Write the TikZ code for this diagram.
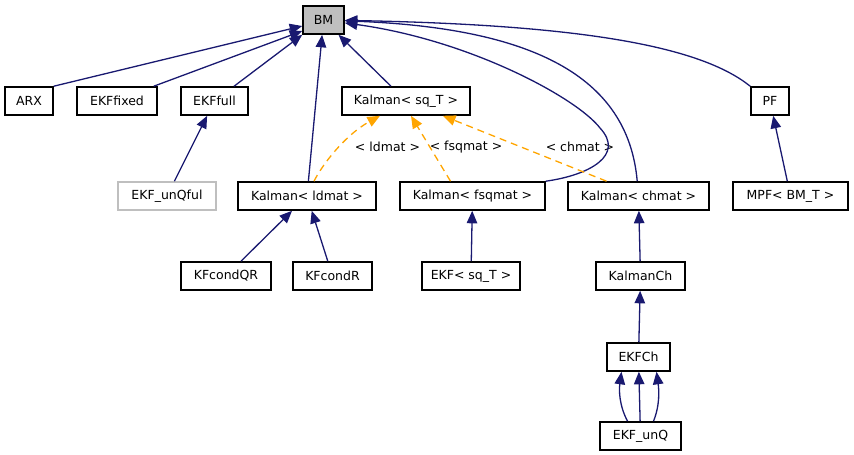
\documentclass[tikz,border=0pt]{standalone}
\usepackage{fontspec}
\setmainfont{DejaVu Sans}
\usetikzlibrary{arrows.meta}
\definecolor{marine}{HTML}{191970}
\definecolor{orangedox}{HTML}{FFA500}
\definecolor{grisdox}{HTML}{BFBFBF}

\begin{document}
\begin{tikzpicture}[x=1pt,y=-1pt]
 \tikzstyle{boite}=[rectangle,draw,line width=1.6pt,fill=white,text=black,minimum height=28pt,inner sep=0pt,font=\fontsize{12.5}{15}\selectfont]
 \tikzstyle{racine}=[boite,fill=grisdox]
 \tikzstyle{grise}=[boite,draw=grisdox]
 \tikzstyle{etiq}=[text=black,inner sep=0pt,font=\fontsize{12.5}{15}\selectfont]
 \tikzstyle{herite}=[->,>={Triangle[length=12.5pt,width=10.5pt]},draw=marine,line width=1.3pt]
 \tikzstyle{modele}=[->,>={Triangle[length=12.5pt,width=10.5pt]},draw=orangedox,line width=1.3pt,dash pattern=on 7pt off 5pt]
 \useasboundingbox (0,0) rectangle (854,455);
 \node[racine,minimum width=41pt] (BM) at (323.5,20) {BM};
 \node[boite,minimum width=48pt] (ARX) at (29,101) {ARX};
 \node[boite,minimum width=80pt] (EKFfixed) at (117,101) {EKFfixed};
 \node[boite,minimum width=67pt] (EKFfull) at (214.5,101) {EKFfull};
 \node[boite,minimum width=128pt] (KsqT) at (406,101) {Kalman< sq\_T >};
 \node[boite,minimum width=38pt] (PF) at (770,101) {PF};
 \node[grise,minimum width=98pt] (EKFunQful) at (167,196) {EKF\_unQful};
 \node[boite,minimum width=138pt] (Kld) at (307,196) {Kalman< ldmat >};
 \node[boite,minimum width=145pt] (Kfsq) at (472.5,196) {Kalman< fsqmat >};
 \node[boite,minimum width=141pt] (Kch) at (638.5,196) {Kalman< chmat >};
 \node[boite,minimum width=115pt] (MPF) at (790.5,196) {MPF< BM\_T >};
 \node[boite,minimum width=90pt] (KFcondQR) at (226,276) {KFcondQR};
 \node[boite,minimum width=79pt] (KFcondR) at (332.5,276) {KFcondR};
 \node[boite,minimum width=98pt] (EKFsqT) at (471,276) {EKF< sq\_T >};
 \node[boite,minimum width=89pt] (KalmanCh) at (640.5,276) {KalmanCh};
 \node[boite,minimum width=63pt] (EKFCh) at (638.5,357) {EKFCh};
 \node[boite,minimum width=81pt] (EKFunQ) at (640.5,436) {EKF\_unQ};
 \node[etiq] (Lld) at (387.5,147) {< ldmat >};
 \node[etiq] (Lfsq) at (466,147) {< fsqmat >};
 \node[etiq] (Lch) at (580,147) {< chmat >};
 \draw[herite] (ARX.north east)--([yshift=-6pt]BM.west);
 \draw[herite] ([xshift=-4pt]EKFfixed.north east)--([yshift=-11pt]BM.west);
 \draw[herite] (EKFfull)--(BM.south west);
 \draw[herite] (Kld)--(BM);
 \draw[herite] (KsqT)--(BM);
 \draw[herite] (Kfsq.north east) .. controls (590,175) and (625,155) .. (600,128) .. controls (577,98) and (470,40) .. (BM);
 \draw[herite] (Kch) .. controls (628,75) and (530,28) .. (BM);
 \draw[herite] (PF.north west) .. controls (705,50) and (600,25) .. (BM);
 \draw[herite] (EKFunQful)--(EKFfull);
 \draw[herite] (MPF)--(PF);
 \draw[herite] (KFcondQR)--(Kld);
 \draw[herite] (KFcondR)--(Kld);
 \draw[herite] (EKFsqT)--(Kfsq);
 \draw[herite] (KalmanCh)--(Kch);
 \draw[herite] (EKFCh)--(KalmanCh);
 \draw[herite] (EKFunQ)--(EKFCh);
 \draw[herite] ([xshift=-13pt]EKFunQ.north) .. controls (619,405) and (619,390) .. ([xshift=-17pt]EKFCh.south);
 \draw[herite] ([xshift=13pt]EKFunQ.north) .. controls (660,405) and (659,390) .. ([xshift=18pt]EKFCh.south);
 \draw[modele] ([xshift=7pt]Kld.north) .. controls (322,165) and (345,135) .. ([xshift=-26pt]KsqT.south);
 \draw[modele] ([xshift=-22pt]Kfsq.north)--([xshift=5pt]KsqT.south);
 \draw[modele] ([xshift=-32pt]Kch.north)--([xshift=37pt]KsqT.south);
\end{tikzpicture}
\end{document}
